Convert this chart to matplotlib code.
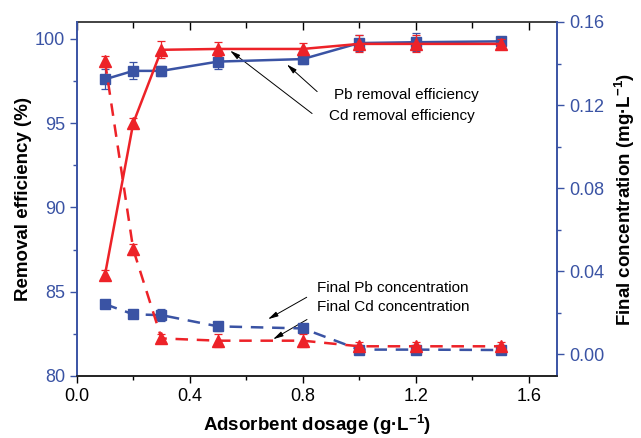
import matplotlib
matplotlib.use("Agg")
import matplotlib.pyplot as plt
from matplotlib.ticker import MultipleLocator

plt.rcParams['font.family'] = ['Liberation Sans', 'DejaVu Sans']
plt.rcParams['mathtext.fontset'] = 'custom'
plt.rcParams['mathtext.rm'] = 'Liberation Sans'
plt.rcParams['mathtext.bf'] = 'Liberation Sans:bold'
plt.rcParams['mathtext.default'] = 'bf'

dosage = [0.1, 0.2, 0.3, 0.5, 0.8, 1.0, 1.2, 1.5]

eff_red = [86.0, 95.0, 99.35, 99.4, 99.4, 99.7, 99.7, 99.7]
eff_red_err = [0.3, 0.3, 0.5, 0.4, 0.35, 0.5, 0.5, 0.3]
eff_blue = [97.6, 98.1, 98.1, 98.65, 98.8, 99.75, 99.8, 99.85]
eff_blue_err = [0.6, 0.5, 0.3, 0.45, 0.3, 0.5, 0.55, 0.2]

conc_red = [0.141, 0.0505, 0.0076, 0.0065, 0.0065, 0.0038, 0.0038, 0.0038]
conc_red_err = [0.0025, 0.0025, 0.002, 0.003, 0.003, 0.002, 0.002, 0.002]
conc_blue = [0.0241, 0.0192, 0.0188, 0.0134, 0.0124, 0.0022, 0.0022, 0.002]
conc_blue_err = [0.001, 0.0015, 0.003, 0.002, 0.0015, 0.001, 0.002, 0.001]

xticks = [0.0, 0.4, 0.8, 1.2, 1.6]
yticks_left = [80, 85, 90, 95, 100]
yticks_right = [0.00, 0.04, 0.08, 0.12, 0.16]

BLUE = '#3a53a4'
RED = '#ed2228'

fig = plt.figure(figsize=(6.41, 4.38), dpi=100)
ax = fig.add_axes([0.1197, 0.1416, 0.7493, 0.8082])
ax2 = ax.twinx()

lw = 1.8
ax.errorbar(dosage, eff_blue, yerr=eff_blue_err, color=BLUE, marker='s', ms=6.5,
            lw=lw, capsize=3, elinewidth=0.9, capthick=0.9, zorder=3)
ax.errorbar(dosage, eff_red, yerr=eff_red_err, color=RED, marker='^', ms=8,
            lw=lw, capsize=3, elinewidth=0.9, capthick=0.9, zorder=4)

ax2.errorbar(dosage, conc_blue, yerr=conc_blue_err, color=BLUE, marker='s', ms=6.5,
             lw=lw, ls=(0, (5, 3.5)), capsize=3, elinewidth=0.9, capthick=0.9, zorder=3)
ax2.errorbar(dosage, conc_red, yerr=conc_red_err, color=RED, marker='^', ms=8,
             lw=lw, ls=(0, (5, 3.5)), capsize=3, elinewidth=0.9, capthick=0.9, zorder=4)

ax.set_xlim(0, 1.7)
ax.set_ylim(80, 101)
ax2.set_ylim(-0.0105, 0.16)

ax.set_xticks(xticks)
ax.set_xticklabels([f'{v:.1f}' for v in xticks])
ax.xaxis.set_minor_locator(MultipleLocator(0.2))
ax.set_yticks(yticks_left)
ax.yaxis.set_minor_locator(MultipleLocator(2.5))
ax2.set_yticks(yticks_right)
ax2.set_yticklabels([f'{v:.2f}' for v in yticks_right])
ax2.yaxis.set_minor_locator(MultipleLocator(0.02))

fs = 13
ax.tick_params(axis='x', which='both', direction='out', labelsize=fs, colors='black', top=False)
ax.tick_params(axis='x', which='major', length=5, width=1)
ax.tick_params(axis='x', which='minor', length=3, width=1)
ax.tick_params(axis='y', which='both', direction='out', labelsize=fs, colors=BLUE)
ax.tick_params(axis='y', which='major', length=5, width=1)
ax.tick_params(axis='y', which='minor', length=3, width=1)
ax2.tick_params(axis='y', which='both', direction='out', labelsize=fs, colors=BLUE)
ax2.tick_params(axis='y', which='major', length=5, width=1)
ax2.tick_params(axis='y', which='minor', length=3, width=1)

sec = ax.secondary_xaxis('top')
sec.set_xticks(xticks)
sec.xaxis.set_minor_locator(MultipleLocator(0.2))
sec.tick_params(axis='x', which='both', direction='in', labeltop=False, width=1)
sec.tick_params(axis='x', which='major', length=6)
sec.tick_params(axis='x', which='minor', length=4)
sec.spines['top'].set_color('#222222')
sec.spines['top'].set_linewidth(1.2)

for a in (ax, ax2):
    a.spines['left'].set_color(BLUE)
    a.spines['right'].set_color(BLUE)
    a.spines['bottom'].set_color('#222222')
    a.spines['top'].set_visible(False)
    for s in a.spines.values():
        s.set_linewidth(1.2)

lfs = 13.5
ax.set_xlabel('Adsorbent dosage (g·L$^{-1}$)', fontsize=lfs,
              fontweight='bold', labelpad=6)
ax.set_ylabel('Removal efficiency (%)', fontsize=lfs, fontweight='bold', labelpad=2)
ax2.set_ylabel('Final concentration (mg·L$^{-1}$)', fontsize=lfs,
               fontweight='bold', labelpad=6)

afs = 11
ax.text(1.165, 96.64, 'Pb removal efficiency', fontsize=afs, ha='center', va='center')
ax.text(1.15, 95.45, 'Cd removal efficiency', fontsize=afs, ha='center', va='center')
ax.text(1.12, 85.23, 'Final Pb concentration', fontsize=afs, ha='center', va='center')
ax.text(1.12, 84.12, 'Final Cd concentration', fontsize=afs, ha='center', va='center')

aprops = dict(arrowstyle='-|>,head_length=0.6,head_width=0.15', color='black', lw=0.7,
              shrinkA=0, shrinkB=0)
ax.annotate('', xy=(0.744, 98.48), xytext=(0.851, 96.87), arrowprops=aprops)
ax.annotate('', xy=(0.543, 99.3), xytext=(0.833, 95.57), arrowprops=aprops)
ax.annotate('', xy=(0.677, 83.37), xytext=(0.814, 84.67), arrowprops=aprops)
ax.annotate('', xy=(0.695, 82.18), xytext=(0.815, 83.35), arrowprops=aprops)

fig.savefig('out.png', dpi=100)
